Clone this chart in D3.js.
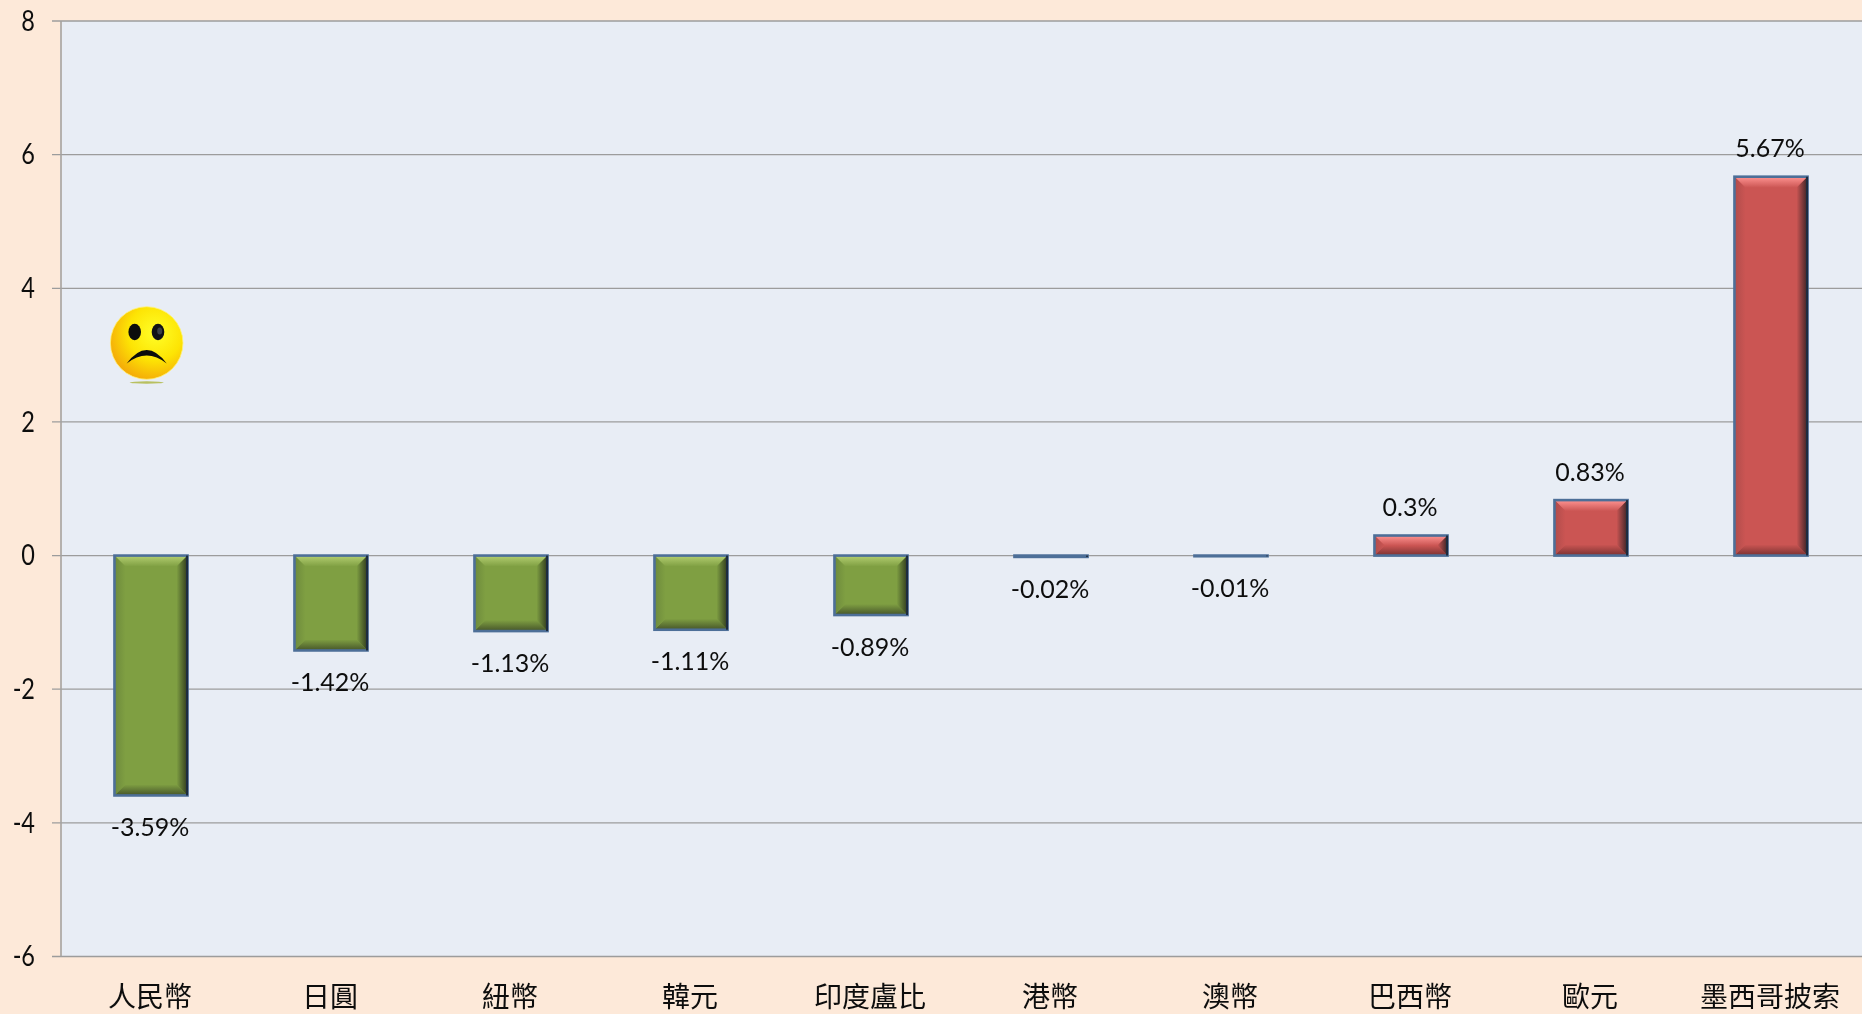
<!DOCTYPE html>
<html>
<head>
<meta charset="utf-8">
<script src="https://cdn.jsdelivr.net/npm/d3@7"></script>
<style>
html, body { margin: 0; padding: 0; background: #fde9d9; overflow: hidden; }
svg { display: block; }
text { fill: #111; }
.num { font-family: Lato, "Open Sans", sans-serif; }
.cat { font-family: "Noto Sans CJK TC", serif; font-weight: 400; }
</style>
</head>
<body>
<script>
var categories = ['人民幣', '日圓', '紐幣', '韓元', '印度盧比', '港幣', '澳幣', '巴西幣', '歐元', '墨西哥披索'];
var values = [-3.59, -1.42, -1.13, -1.11, -0.89, -0.02, -0.01, 0.3, 0.83, 5.67];
var valueLabels = ['-3.59%', '-1.42%', '-1.13%', '-1.11%', '-0.89%', '-0.02%', '-0.01%', '0.3%', '0.83%', '5.67%'];
var yTicks = [-6, -4, -2, 0, 2, 4, 6, 8];

var svgWidth = 1862;
var svgHeight = 1014;

var svg = d3.select('body').append('svg').attr('width', svgWidth).attr('height', svgHeight);

var x = d3.scaleBand().domain(categories).range([61, 1861]).paddingInner(0.594).paddingOuter(0.297);
var y = d3.scaleLinear().domain([-6, 8]).range([956.5, 21]);

var colors = {
  neg: { name: 'neg', base: '#7f9f42', top: '#b4cf72', bottom: '#46552a', left: '#6d8a3c', right: '#2f3a1f' },
  pos: { name: 'pos', base: '#cb5553', top: '#ff9492', bottom: '#7a3231', left: '#b04c4b', right: '#3a2426' }
};

var defs = svg.append('defs');
defs.append('filter').attr('id', 'textSoft').append('feGaussianBlur').attr('stdDeviation', 0.35);

// one fading gradient per bevel side
var sides = { top: [0, 0, 0, 1], bottom: [0, 1, 0, 0], left: [0, 0, 1, 0], right: [1, 0, 0, 0] };
[colors.neg, colors.pos].forEach(function (c) {
  Object.keys(sides).forEach(function (s) {
    var v = sides[s];
    var grad = defs.append('linearGradient').attr('id', c.name + '-' + s)
      .attr('x1', v[0]).attr('y1', v[1]).attr('x2', v[2]).attr('y2', v[3]);
    grad.append('stop').attr('offset', 0).attr('stop-color', c[s]);
    grad.append('stop').attr('offset', 1).attr('stop-color', c.base);
  });
});

// smiley gradient
var faceGrad = defs.append('radialGradient').attr('id', 'face')
  .attr('cx', '0.62').attr('cy', '0.36').attr('r', '0.75');
faceGrad.append('stop').attr('offset', '0').attr('stop-color', '#ffff28');
faceGrad.append('stop').attr('offset', '0.5').attr('stop-color', '#fde404');
faceGrad.append('stop').attr('offset', '1').attr('stop-color', '#f29c0a');

// plot area
svg.append('rect')
  .attr('x', 62).attr('y', y(8))
  .attr('width', svgWidth - 62).attr('height', y(-6) - y(8))
  .attr('fill', '#e8edf5');

// grid lines and ticks
svg.selectAll('line.grid').data(yTicks).enter().append('line')
  .attr('class', 'grid')
  .attr('x1', 52).attr('x2', svgWidth)
  .attr('y1', function (d) { return y(d); })
  .attr('y2', function (d) { return y(d); })
  .attr('stroke', '#9c9c9c').attr('stroke-width', 1.3);

svg.append('line')
  .attr('x1', 61).attr('x2', 61).attr('y1', y(8)).attr('y2', y(-6))
  .attr('stroke', '#a3a3a3').attr('stroke-width', 1.6);

svg.selectAll('text.tick').data(yTicks).enter().append('text')
  .attr('class', 'tick num')
  .attr('transform', function (d) { return 'translate(35,' + y(d) + ') scale(0.84,1)'; })
  .attr('dy', '0.35em').attr('text-anchor', 'end')
  .attr('font-size', 28)
  .attr('filter', 'url(#textSoft)')
  .text(function (d) { return d; });

// bars
var bars = svg.selectAll('g.bar').data(values).enter().append('g').attr('class', 'bar');

bars.each(function (d, i) {
  var g = d3.select(this);
  var c = d < 0 ? colors.neg : colors.pos;
  var x0 = x(categories[i]);
  var x1 = x0 + x.bandwidth();
  var y0 = Math.min(y(d), y(0));
  var y1 = Math.max(y(d), y(0));
  var b = Math.min(11, (y1 - y0) / 2);

  g.append('rect').attr('x', x0).attr('y', y0).attr('width', x1 - x0).attr('height', y1 - y0)
    .attr('fill', c.base);

  var faces = [
    ['top', [[x0, y0], [x1, y0], [x1 - b, y0 + b], [x0 + b, y0 + b]]],
    ['bottom', [[x0, y1], [x1, y1], [x1 - b, y1 - b], [x0 + b, y1 - b]]],
    ['left', [[x0, y0], [x0 + b, y0 + b], [x0 + b, y1 - b], [x0, y1]]],
    ['right', [[x1, y0], [x1 - b, y0 + b], [x1 - b, y1 - b], [x1, y1]]]
  ];
  faces.forEach(function (f) {
    g.append('path').attr('d', d3.line()(f[1]) + 'Z')
      .attr('fill', 'url(#' + c.name + '-' + f[0] + ')');
  });

  // no filter here, the flat bars have almost no box for it to work on
  g.append('rect').attr('x', x0).attr('y', y0).attr('width', x1 - x0).attr('height', y1 - y0)
    .attr('fill', 'none').attr('stroke', '#4d6f98').attr('stroke-width', 2.6);

  // dark right edge
  g.append('line').attr('x1', x1 - 0.5).attr('x2', x1 - 0.5).attr('y1', y0).attr('y2', y1)
    .attr('stroke', '#1d2b3d').attr('stroke-width', 2);
});

// data labels
svg.selectAll('text.value').data(values).enter().append('text')
  .attr('class', 'value num')
  .attr('x', function (d, i) { return x(categories[i]) + x.bandwidth() / 2 - 1; })
  .attr('y', function (d) { return y(d) + (d < 0 ? 32 : -28); })
  .attr('dy', '0.35em').attr('text-anchor', 'middle')
  .attr('font-size', 25)
  .attr('filter', 'url(#textSoft)')
  .text(function (d, i) { return valueLabels[i]; });

// category labels
svg.selectAll('text.cat').data(categories).enter().append('text')
  .attr('class', 'cat')
  .attr('x', function (d) { return x(d) + x.bandwidth() / 2 - 1; })
  .attr('y', 997)
  .attr('dy', '0.35em').attr('text-anchor', 'middle')
  .attr('font-size', 28)
  .attr('filter', 'url(#textSoft)')
  .text(function (d) { return d; });

// sad face
var face = svg.append('g').attr('transform', 'translate(146.7,343)');
face.append('ellipse').attr('cx', 0).attr('cy', 39.5).attr('rx', 17).attr('ry', 1.2).attr('fill', '#b8c060');
face.append('circle').attr('r', 36.3).attr('fill', 'url(#face)').attr('stroke', '#fff27a').attr('stroke-width', 0.8);
face.append('ellipse').attr('cx', -12).attr('cy', -11).attr('rx', 6.3).attr('ry', 8.3).attr('fill', '#0c0c0c');
face.append('ellipse').attr('cx', 11.3).attr('cy', -11).attr('rx', 6.3).attr('ry', 8.3).attr('fill', '#101216');
face.append('ellipse').attr('cx', 13).attr('cy', -12).attr('rx', 2.5).attr('ry', 3.5).attr('fill', '#3a4048');
face.append('path')
  .attr('d', 'M-20,20.5 Q0,-6.5 20,20.5 Q0,4.5 -20,20.5Z')
  .attr('fill', '#0c0c0c');
</script>
</body>
</html>
